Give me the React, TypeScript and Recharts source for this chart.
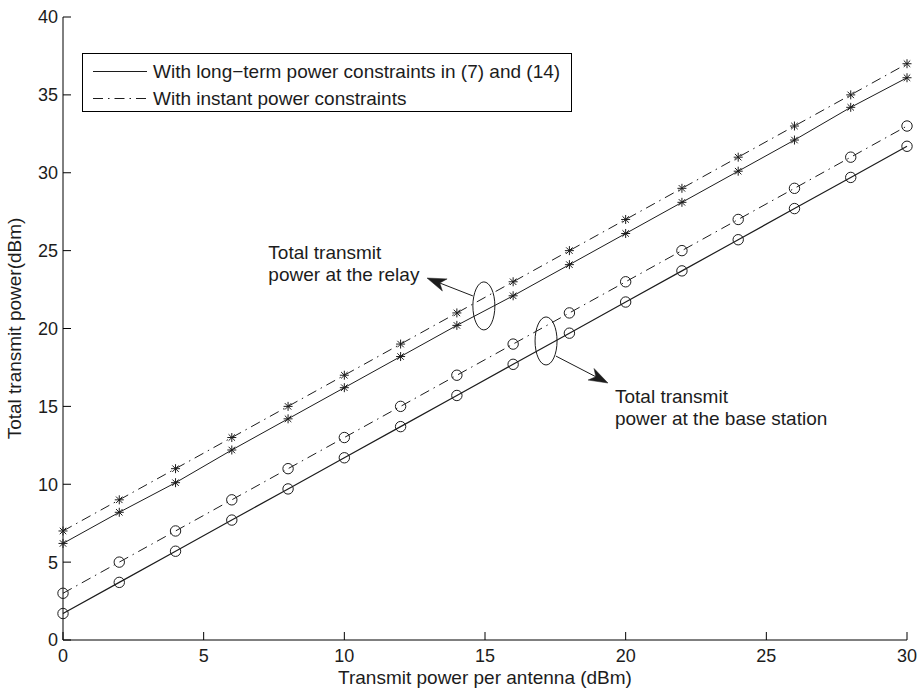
import React from 'react'
import {LineChart, Line, XAxis, YAxis, Legend, ReferenceDot, ReferenceLine} from 'recharts'

// values
const antennaPower = [0, 2, 4, 6, 8, 10, 12, 14, 16, 18, 20, 22, 24, 26, 28, 30]
const relayLongTerm = [6.2, 8.2, 10.1, 12.2, 14.2, 16.2, 18.2, 20.2, 22.1, 24.1, 26.1, 28.1, 30.1, 32.1, 34.2, 36.1]
const relayInstant = [7, 9, 11, 13, 15, 17, 19, 21, 23, 25, 27, 29, 31, 33, 35, 37]
const bsInstant = [3, 5, 7, 9, 11, 13, 15, 17, 19, 21, 23, 25, 27, 29, 31, 33]
const bsLongTerm = [1.7, 3.7, 5.7, 7.7, 9.7, 11.7, 13.7, 15.7, 17.7, 19.7, 21.7, 23.7, 25.7, 27.7, 29.7, 31.7]
const xTicks = [0, 5, 10, 15, 20, 25, 30]
const yTicks = [0, 5, 10, 15, 20, 25, 30, 35, 40]

const legendItems = [
  {label: 'With long\u2212term power constraints in (7) and (14)', dash: undefined},
  {label: 'With instant power constraints', dash: '10 5 1.5 5'},
]

const data = antennaPower.map((x, i) => ({
  x,
  relayLT: relayLongTerm[i],
  relayInst: relayInstant[i],
  bsInst: bsInstant[i],
  bsLT: bsLongTerm[i],
}))

const FONT = '"Liberation Sans", Arial, Helvetica, sans-serif'
const INK = '#1c1c1c'
const DASHDOT = '10 5 1.5 5'

const StarDot = (props: any) => {
  const {cx, cy, index} = props
  if (cx == null || cy == null) return null
  const r = 4.5
  const d = r * 0.72
  return (
    <g key={'s' + index} stroke={INK} strokeWidth={1}>
      <line x1={cx - r} y1={cy} x2={cx + r} y2={cy} />
      <line x1={cx} y1={cy - r} x2={cx} y2={cy + r} />
      <line x1={cx - d} y1={cy - d} x2={cx + d} y2={cy + d} />
      <line x1={cx - d} y1={cy + d} x2={cx + d} y2={cy - d} />
    </g>
  )
}

const CircleDot = (props: any) => {
  const {cx, cy, index} = props
  if (cx == null || cy == null) return null
  return <circle key={'c' + index} cx={cx} cy={cy} r={5.2} fill="none" stroke={INK} strokeWidth={1} />
}

// arrow with a filled, notched head at (x2, y2)
const Arrow = (props: any) => {
  const {x1, y1, x2, y2} = props
  const dx = x2 - x1, dy = y2 - y1
  const len = Math.sqrt(dx * dx + dy * dy) || 1
  const ux = dx / len, uy = dy / len
  const nx = -uy, ny = ux
  const L = 19, W = 6.5
  const bx = x2 - L * ux, by = y2 - L * uy
  const pts = [
    [x2, y2],
    [bx + W * nx, by + W * ny],
    [x2 - 0.72 * L * ux, y2 - 0.72 * L * uy],
    [bx - W * nx, by - W * ny],
  ].map(p => p.join(',')).join(' ')
  return (
    <g>
      <line x1={x1} y1={y1} x2={x2 - 0.72 * L * ux} y2={y2 - 0.72 * L * uy} stroke={INK} strokeWidth={1} />
      <polygon points={pts} fill={INK} stroke={INK} strokeWidth={0.5} />
    </g>
  )
}

const Oval = (props: any) => (
  <ellipse cx={props.cx} cy={props.cy} rx={11} ry={24} fill="none" stroke={INK} strokeWidth={1} />
)

const noteText = (lines: string[]) => (props: any) => (
  <text x={props.cx} y={props.cy} fill={INK} fontSize={19} fontFamily={FONT}>
    {lines.map((t, i) => (
      <tspan key={i} x={props.cx} dy={i === 0 ? 0 : 22}>{t}</tspan>
    ))}
  </text>
)

const renderLegend = () => (
  <svg width={490} height={59} style={{display: 'block'}}>
    <rect x={0.5} y={0.5} width={489} height={58} fill="#fff" stroke="#000" strokeWidth={1} />
    {legendItems.map((it, i) => (
      <g key={it.label}>
        <line x1={11} x2={65} y1={18.5 + i * 27} y2={18.5 + i * 27} stroke={INK} strokeWidth={1} strokeDasharray={it.dash} />
        <text x={71} y={18.5 + i * 27} dy="0.36em" fontSize={19} fontFamily={FONT} fill={INK}>{it.label}</text>
      </g>
    ))}
  </svg>
)

const tickStyle = {fontSize: 18, fontFamily: FONT, fill: INK}

export default function App() {
  return (
    <div style={{position: 'absolute', left: 0, top: 0, background: '#fff'}}>
      <LineChart width={918} height={690} data={data} margin={{top: 17, right: 11, bottom: 0, left: 0}}
        style={{fontFamily: FONT}}>
        <XAxis dataKey="x" type="number" domain={[0, 30]} ticks={xTicks} height={50}
          tickSize={-8} tickMargin={17} tick={tickStyle}
          axisLine={{stroke: '#000'}} tickLine={{stroke: '#000'}}
          label={{value: 'Transmit power per antenna (dBm)', position: 'insideBottom', offset: 6, fontSize: 19, fill: INK, fontFamily: FONT}} />
        <XAxis xAxisId="top" orientation="top" dataKey="x" type="number" domain={[0, 30]} ticks={xTicks} height={0}
          tickSize={-8} tick={false} axisLine={{stroke: '#000'}} tickLine={{stroke: '#000'}} />
        <YAxis type="number" domain={[0, 40]} ticks={yTicks} width={63} interval={0}
          tickSize={-8} tickMargin={13} tick={tickStyle}
          axisLine={{stroke: '#000'}} tickLine={{stroke: '#000'}}
          label={{value: 'Total transmit power(dBm)', angle: -90, position: 'insideLeft', offset: 14,
            style: {textAnchor: 'middle', fontSize: 19, fill: INK, fontFamily: FONT}}} />
        <YAxis yAxisId="right" orientation="right" type="number" domain={[0, 40]} ticks={yTicks} width={0}
          tickSize={-8} tick={false} axisLine={{stroke: '#000'}} tickLine={{stroke: '#000'}} />

        <Line dataKey="relayInst" stroke={INK} strokeWidth={1} strokeDasharray={DASHDOT} dot={StarDot} isAnimationActive={false} />
        <Line dataKey="relayLT" stroke={INK} strokeWidth={1} dot={StarDot} isAnimationActive={false} />
        <Line dataKey="bsInst" stroke={INK} strokeWidth={1} strokeDasharray={DASHDOT} dot={CircleDot} isAnimationActive={false} />
        <Line dataKey="bsLT" stroke={INK} strokeWidth={1.2} dot={CircleDot} isAnimationActive={false} />

        <ReferenceDot x={14.96} y={21.45} r={1} shape={Oval} />
        <ReferenceDot x={17.17} y={19.2} r={1} shape={Oval} />
        <ReferenceLine segment={[{x: 14.57, y: 22.09}, {x: 12.94, y: 23.24}]} shape={Arrow} />
        <ReferenceLine segment={[{x: 17.52, y: 18.23}, {x: 19.37, y: 16.5}]} shape={Arrow} />
        <ReferenceDot x={7.3} y={24.45} r={1} shape={noteText(['Total transmit', 'power at the relay'])} />
        <ReferenceDot x={19.62} y={15.22} r={1} shape={noteText(['Total transmit', 'power at the base station'])} />

        <Legend content={renderLegend} layout="vertical" align="center" verticalAlign="middle"
          wrapperStyle={{left: 82, top: 53, width: 490, height: 59}} />
      </LineChart>
    </div>
  )
}
